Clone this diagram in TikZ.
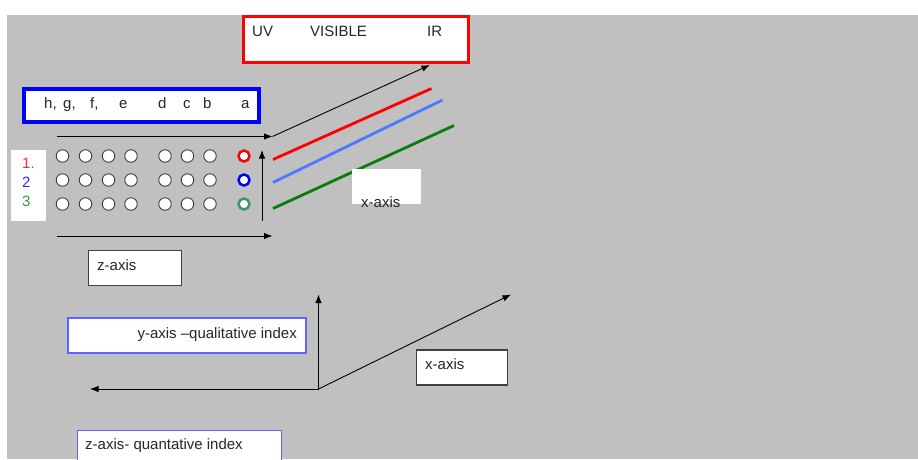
\documentclass[tikz,border=0pt]{standalone}
\usepackage{fontspec}
\setmainfont{Liberation Sans}
\usetikzlibrary{arrows.meta}
\definecolor{bggray}{HTML}{C0C0C0}
\definecolor{boxedge}{HTML}{404040}
\definecolor{softblue}{HTML}{6262FF}
\definecolor{lineblue}{HTML}{4A7BFF}
\definecolor{linegreen}{HTML}{0A7D0A}
\definecolor{ringgreen}{HTML}{3A9A62}
\definecolor{labred}{HTML}{FF3030}
\definecolor{labblue}{HTML}{3030FF}
\definecolor{labgreen}{HTML}{30A030}
\begin{document}
\begin{tikzpicture}[x=1pt,y=-1pt,
  txt/.style={inner sep=0pt,anchor=base west,font=\fontsize{15}{17}\selectfont,text=black!85},
  frame/.style={inner sep=0pt,fill=white},
  dot/.style={circle,draw=black!75,fill=white,line width=0.9pt,minimum size=12.5pt,inner sep=0pt},
  ring/.style={circle,fill=white,line width=2.5pt,minimum size=11pt,inner sep=0pt},
  axis/.style={line width=0.9pt,black,-{Latex[length=8.5pt,width=6.5pt]}},
  band/.style={line width=2.8pt}]
\useasboundingbox (0,0) rectangle (918,459);
\fill[white] (0,0) rectangle (918,459);
\fill[bggray] (7,15) rectangle (918,459);

% spectrum box
\node (spec) [frame,draw=red,line width=3.2pt,minimum width=225pt,minimum height=46pt] at (356,39.5) {};
\node (uv) [txt] at (252,36) {UV};
\node (vis) [txt] at (310,36) {VISIBLE};
\node (ir) [txt] at (427,36) {IR};

% letters box
\node (lett) [frame,draw=blue,line width=3.8pt,minimum width=235pt,minimum height=33pt] at (141.5,105.5) {};
\node (lh) [txt] at (44,108) {h,};
\node (lg) [txt] at (63,108) {g,};
\node (lf) [txt] at (90,108) {f,};
\node (le) [txt] at (119,108) {e};
\node (ld) [txt] at (158,108) {d};
\node (lc) [txt] at (183,108) {c};
\node (lb) [txt] at (203,108) {b};
\node (la) [txt] at (241,108) {a};

% row labels
\node (rows) [frame,minimum width=35pt,minimum height=71pt] at (28.5,185) {};
\node (r1) [txt,text=labred] at (22,168) {1.};
\node (r2) [txt,text=labblue] at (22,187) {2};
\node (r3) [txt,text=labgreen] at (22,206) {3};

% circles
\foreach \row/\yy in {1/156,2/180,3/204}{
  \foreach \col/\xx in {1/62.5,2/85.5,3/108.5,4/131,5/165,6/187.5,7/210}{
    \node (c\row\col) [dot] at (\xx,\yy) {};
  }
}
\node (k1) [ring,draw=red] at (244,156) {};
\node (k2) [ring,draw=blue] at (244,180) {};
\node (k3) [ring,draw=ringgreen] at (244,204) {};

% upper axes
\coordinate (ta) at (57,136.5);
\coordinate (tb) at (272.5,136.5);
\coordinate (tc) at (430,65);
\coordinate (ba) at (57,236);
\coordinate (bb) at (272.5,236);
\coordinate (va) at (262,220.5);
\coordinate (vb) at (262,150);
\draw[axis] (ta) -- (tb);
\draw[axis] (tb) -- (tc);
\draw[axis] (ba) -- (bb);
\draw[axis] (va) -- (vb);

% spectral lines
\coordinate (rs) at (273,159.5);
\coordinate (re) at (431.5,88.5);
\coordinate (bs) at (273,182.5);
\coordinate (be) at (442.5,100);
\coordinate (gs) at (273,208.5);
\coordinate (ge) at (454,125.5);
\draw[band,red] (rs) -- (re);
\draw[band,lineblue] (bs) -- (be);
\draw[band,linegreen] (gs) -- (ge);

% x-axis label (upper)
\node (xup) [frame,minimum width=69pt,minimum height=35pt] at (386,186.5) {};
\node (xupt) [txt] at (361,207) {x-axis};

% z-axis box
\node (zb) [frame,draw=boxedge,line width=1.3pt,minimum width=93pt,minimum height=35pt] at (135,268) {};
\node (zbt) [txt] at (97,270) {z-axis};

% y-axis box
\node (yb) [frame,draw=softblue,line width=1.3pt,minimum width=238pt,minimum height=35pt] at (187,335.5) {};
\node (ybt) [txt,anchor=base east] at (297,338) {y-axis \textendash qualitative index};

% lower axes
\coordinate (o) at (318.5,389);
\coordinate (oy) at (318.5,294.5);
\coordinate (oz) at (90,389);
\coordinate (ox) at (511,294.5);
\draw[axis] (o) -- (oy);
\draw[axis] (o) -- (oz);
\draw[axis] (o) -- (ox);

% x-axis box (lower)
\node (xb) [frame,draw=boxedge,line width=1.3pt,minimum width=91pt,minimum height=35pt] at (462,367.5) {};
\node (xbt) [txt] at (425,369) {x-axis};

% z-axis quantative box
\node (qb) [frame,draw=softblue,line width=1.3pt,minimum width=204pt,minimum height=40pt,anchor=north west] at (76.5,429.5) {};
\node (qbt) [txt] at (85,449) {z-axis- quantative index};
\end{tikzpicture}
\end{document}
